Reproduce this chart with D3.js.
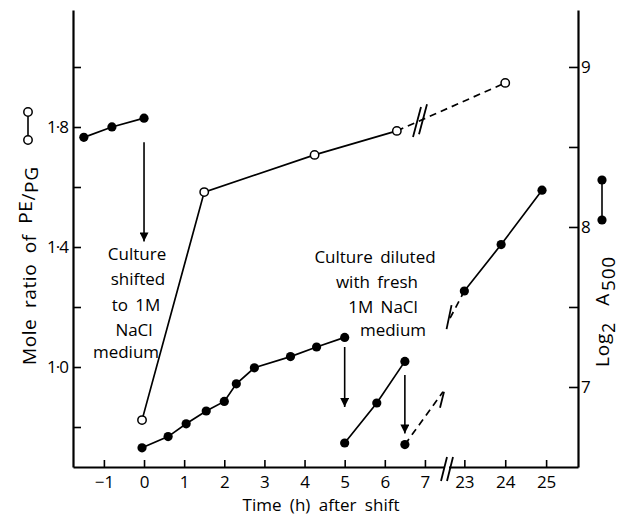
<!DOCTYPE html>
<html>
<head>
<meta charset="utf-8">
<script src="https://cdn.jsdelivr.net/npm/d3@7"></script>
<style>
body { margin: 0; background: #fff; }
text { font-family: "Open Sans", "Noto Sans", sans-serif; fill: #000; font-weight: 500; }
</style>
</head>
<body>
<script>
// PE/PG mole ratio, open circles, left axis
let peTime = [-0.05, 1.5, 4.25, 6.3, 24.0];
let peRatio = [0.823, 1.583, 1.707, 1.787, 1.947];

// log2 A500, filled circles, right axis
let preTime = [-1.5, -0.8, 0.0];
let preA = [8.56, 8.625, 8.68];
let growTime1 = [-0.05, 0.6, 1.05, 1.55, 2.0, 2.3, 2.75, 3.65, 4.3, 5.0];
let growA1 = [6.62, 6.69, 6.77, 6.85, 6.91, 7.02, 7.12, 7.19, 7.25, 7.31];
let growTime2 = [5.0, 5.8, 6.5];
let growA2 = [6.65, 6.9, 7.16];
let dilTime = [6.5];
let dilA = [6.64];
let lateTime = [23.0, 23.9, 24.9];
let lateA = [7.6, 7.89, 8.23];

// dashed extrapolation either side of the break
let extLowTime = [6.5, 7.45];
let extLowA = [6.64, 6.97];
let extHighTime = [22.65, 23.0];
let extHighA = [7.43, 7.6];

// arrows (time, from, to) on the A500 scale
let arrowTime = [0.0, 5.0, 6.5];
let arrowFrom = [8.53, 7.25, 7.075];
let arrowTo = [7.91, 6.875, 6.71];

let xTicks1 = [-1, 0, 1, 2, 3, 4, 5, 6, 7];
let xTicks2 = [23, 24, 25];
let leftTicks = [0.8, 1.0, 1.2, 1.4, 1.6, 1.8, 2.0];
let leftLabeled = [1.0, 1.4, 1.8];
let rightTicks = [7, 7.5, 8, 8.5, 9];
let rightLabeled = [7, 8, 9];

let w = 637, h = 515;
let mLeft = 73, mRight = 578, mTop = 10, mBottom = 467;

let x1 = d3.scaleLinear().domain([-1.77, 7.5]).range([mLeft, 445]);
let x2 = d3.scaleLinear().domain([22.6, 25.78]).range([448, mRight]);
let xs = function (t) { return t < 15 ? x1(t) : x2(t); };
let yL = d3.scaleLinear().domain([0.6667, 2.19]).range([mBottom, mTop]);
let yR = d3.scaleLinear().domain([6.5, 9.356]).range([mBottom, mTop]);

let svg = d3.select("body").append("svg").attr("width", w).attr("height", h);

svg.append("defs").append("marker")
  .attr("id", "head")
  .attr("viewBox", "0 0 10 10")
  .attr("refX", 10).attr("refY", 5)
  .attr("markerWidth", 9).attr("markerHeight", 9)
  .attr("markerUnits", "userSpaceOnUse")
  .attr("orient", "auto")
  .append("path").attr("d", "M0,0L10,5L0,10Z").attr("fill", "#000");

function zip(a, b) { return a.map(function (d, i) { return { t: d, v: b[i] }; }); }

// axes
let fmtX = function (d) { return d < 0 ? "\u2212" + (-d) : String(d); };
let gx1 = svg.append("g").attr("transform", "translate(0," + mBottom + ")")
  .call(d3.axisBottom(x1).tickValues(xTicks1).tickSize(-7).tickSizeOuter(0).tickPadding(9).tickFormat(fmtX));
let gx2 = svg.append("g").attr("transform", "translate(0," + mBottom + ")")
  .call(d3.axisBottom(x2).tickValues(xTicks2).tickSize(-7).tickSizeOuter(0).tickPadding(9).tickFormat(fmtX));
let gl = svg.append("g").attr("transform", "translate(" + mLeft + ",0)")
  .call(d3.axisLeft(yL).tickValues(leftTicks).tickSize(-8).tickSizeOuter(0).tickPadding(5)
    .tickFormat(function (d) { return leftLabeled.some(function (v) { return Math.abs(v - d) < 1e-6; }) ? d3.format(".1f")(d).replace(".", "\u00b7") : ""; }));
let gr = svg.append("g").attr("transform", "translate(" + mRight + ",0)")
  .call(d3.axisRight(yR).tickValues(rightTicks).tickSize(-9).tickSizeOuter(0).tickPadding(3)
    .tickFormat(function (d) { return rightLabeled.indexOf(d) >= 0 ? String(d) : ""; }));

[gx1, gx2, gl, gr].forEach(function (g) {
  g.select(".domain").attr("stroke-width", 2.2);
  g.selectAll(".tick line").attr("stroke-width", 1.6);
  g.selectAll(".tick text").attr("font-size", 17).attr("font-family", "Open Sans, sans-serif");
});
gl.selectAll(".tick text").attr("letter-spacing", -1);

function slash(cx, cy, hh, sl, sw) {
  svg.append("line")
    .attr("x1", cx - sl / 2).attr("y1", cy + hh / 2)
    .attr("x2", cx + sl / 2).attr("y2", cy - hh / 2)
    .attr("stroke", "#000").attr("stroke-width", sw || 1.8);
}
// axis break
svg.append("rect").attr("x", 445).attr("y", mBottom - 2).attr("width", 4).attr("height", 4).attr("fill", "#fff");
slash(444, mBottom + 2, 24, 6);
slash(450, mBottom + 2, 24, 6);

function drawLine(pts, scaleY, dashed) {
  let gen = d3.line().x(function (d) { return xs(d.t); }).y(function (d) { return scaleY(d.v); });
  svg.append("path").datum(pts).attr("d", gen)
    .attr("fill", "none").attr("stroke", "#000").attr("stroke-width", 1.7)
    .attr("stroke-dasharray", dashed ? "7,5" : null);
}
function drawDots(pts, scaleY, open) {
  svg.selectAll(null).data(pts).enter().append("circle")
    .attr("cx", function (d) { return xs(d.t); })
    .attr("cy", function (d) { return scaleY(d.v); })
    .attr("r", open ? 4.2 : 4.6)
    .attr("fill", open ? "#fff" : "#000")
    .attr("stroke", "#000").attr("stroke-width", open ? 1.5 : 0);
}

// PE/PG
let pe = zip(peTime, peRatio);
drawLine(pe.slice(0, 4), yL, false);
drawLine(pe.slice(3), yL, true);
let pA = [xs(pe[3].t), yL(pe[3].v)], pB = [xs(pe[4].t), yL(pe[4].v)];
[417, 423].forEach(function (bx) {
  let by = pA[1] + (pB[1] - pA[1]) * (bx - pA[0]) / (pB[0] - pA[0]);
  slash(bx, by, 30, 8);
});

// A500
drawLine(zip(preTime, preA), yR, false);
drawLine(zip(growTime1, growA1), yR, false);
drawLine(zip(growTime2, growA2), yR, false);
drawLine(zip(lateTime, lateA), yR, false);
let extLow = zip(extLowTime, extLowA), extHigh = zip(extHighTime, extHighA);
drawLine(extLow, yR, true);
drawLine(extHigh, yR, true);
let eL = extLow[1];
svg.append("line").attr("x1", xs(eL.t) - 3).attr("y1", yR(eL.v) + 16)
  .attr("x2", xs(eL.t) + 1).attr("y2", yR(eL.v)).attr("stroke", "#000").attr("stroke-width", 1.8);
let eH = extHigh[0];
slash(xs(eH.t) - 1, yR(eH.v) - 1, 24, 5);

drawDots(pe, yL, true);
drawDots(zip(preTime, preA), yR, false);
drawDots(zip(growTime1, growA1), yR, false);
drawDots(zip(growTime2, growA2), yR, false);
drawDots(zip(dilTime, dilA), yR, false);
drawDots(zip(lateTime, lateA), yR, false);

// arrows
arrowTime.forEach(function (t, i) {
  svg.append("line")
    .attr("x1", xs(t)).attr("y1", yR(arrowFrom[i]))
    .attr("x2", xs(t)).attr("y2", yR(arrowTo[i]))
    .attr("stroke", "#000").attr("stroke-width", 1.6)
    .attr("marker-end", "url(#head)");
});

// annotations
let note1 = [["Culture", 137, 260], ["shifted", 138, 285], ["to 1M", 136, 311], ["NaCl", 134, 336], ["medium", 126, 358]];
let note2 = [["Culture diluted", 375, 263], ["with fresh", 377, 288], ["1M NaCl", 383, 313], ["medium", 393, 336]];
note1.concat(note2).forEach(function (d) {
  svg.append("text").attr("x", d[1]).attr("y", d[2]).attr("text-anchor", "middle")
    .attr("font-size", 17).attr("word-spacing", 3).text(d[0]);
});

// axis titles
svg.append("text").attr("x", 321).attr("y", 511).attr("text-anchor", "middle")
  .attr("font-size", 17).attr("word-spacing", 4).text("Time (h) after shift");

let lt = svg.append("text").attr("transform", "translate(36,365) rotate(-90)")
  .attr("font-size", 19).attr("letter-spacing", 0.6).attr("word-spacing", 5);
lt.append("tspan").text("Mole ratio of ");
lt.append("tspan").attr("dy", -4).text("PE");
lt.append("tspan").attr("dy", 3).text("/");
lt.append("tspan").attr("dy", 3).text("PG");

let rt = svg.append("text").attr("transform", "translate(609,367) rotate(-90)")
  .attr("font-size", 19).attr("letter-spacing", 0.8);
rt.append("tspan").text("Log");
rt.append("tspan").attr("dy", 6).attr("font-size", 18).text("2");
rt.append("tspan").attr("dy", -6).attr("dx", 16).text("A");
rt.append("tspan").attr("dy", 6).attr("dx", 2).attr("font-size", 19).text("500");

// legend symbols
svg.append("line").attr("x1", 28).attr("x2", 28).attr("y1", 112).attr("y2", 140)
  .attr("stroke", "#000").attr("stroke-width", 1.6);
[112, 140].forEach(function (y) {
  svg.append("circle").attr("cx", 28).attr("cy", y).attr("r", 4.2)
    .attr("fill", "#fff").attr("stroke", "#000").attr("stroke-width", 1.5);
});
svg.append("line").attr("x1", 602).attr("x2", 602).attr("y1", 180).attr("y2", 220)
  .attr("stroke", "#000").attr("stroke-width", 1.6);
[180, 220].forEach(function (y) {
  svg.append("circle").attr("cx", 602).attr("cy", y).attr("r", 4.6).attr("fill", "#000");
});
</script>
</body>
</html>
